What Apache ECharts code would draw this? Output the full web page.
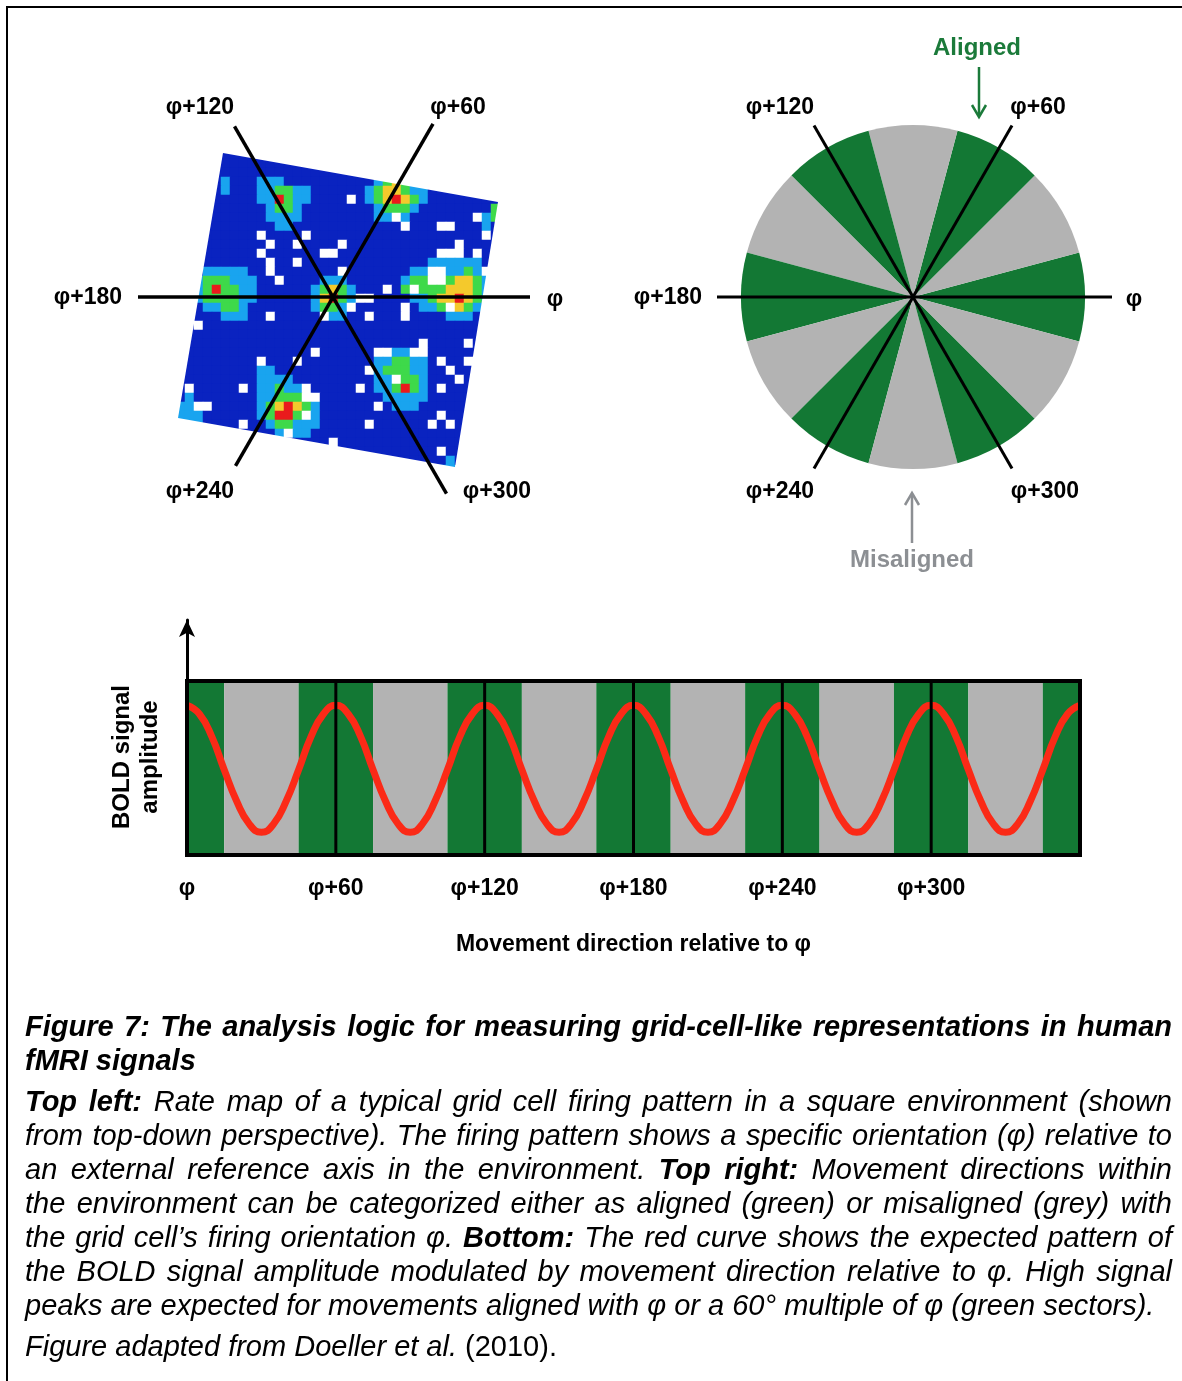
<!DOCTYPE html>
<html><head><meta charset="utf-8">
<script src="https://cdn.jsdelivr.net/npm/echarts@6/dist/echarts.min.js"></script>
<style>html,body{margin:0;padding:0;background:#fff}#c{width:1182px;height:1381px}</style>
</head><body><div id="c"></div>
<script>
// ===================== DATA =====================
// Rate map (grid cell firing), one string per row: [first column, cells]
// '.' = low (dark blue), 'b' = light blue, 'g' = green, 'y' = yellow, 'r' = red (peak), 'w' = unvisited (white)
const rateMapRows = [
  [5, "...."],
  [4, "..........."],
  [4, "................."],
  [4, ".b...bbb..........bgyg"],
  [4, ".b...bbggbb......bgyygbb...."],
  [4, ".....bbrgbb....w.bgyrygb........"],
  [4, "......bggb........bgggb........g"],
  [3, ".......bbbb........bbwb.......wbg"],
  [3, "........bb............w...ww...b."],
  [3, "......w....w...................w."],
  [3, ".......w..w....w............w...."],
  [3, "......w......ww...........www.w."],
  [3, ".......w..w..............bbbbbb."],
  [2, ".bbbbb..w.......w.......bbwwbbgbw"],
  [2, "bgggbbb..w....bbb......bggwwgyygb"],
  [2, "bgrggbb......bgygb...w.gwgggyyygb"],
  [2, "bggggbb......byrgbww....bbgyyrygb"],
  [2, ".bbggb.......bggbw.....w.bbgwygb"],
  [2, "...bbb..w.....wbb..w...w....bbb."],
  [1, ".w..............................."],
  [1, "................................."],
  [1, "..........................w....w."],
  [1, "..............w......wwbbww......"],
  [1, "........w...w........bbggbb.w..w"],
  [1, "........bb..........wbgggbb..w.."],
  [0, ".........bbbb.........bbwggb...w."],
  [0, ".w.....w.bbgbbw.....w.bbgrgb.w..."],
  [0, ".b.......bbgggww.......bbbbb....."],
  [0, "bbww.....bgyrygb......w.bbb......"],
  [0, "bbb......bgrrgwb.............w.."],
  [1, "bb....w..bggbbb.....w......w.w."],
  [7, "....bwbb................."],
  [12, ".....w.............."],
  [18, "...........w.."],
  [24, "......b."],
  [29, "bb"]
];
const rateLevelCodes = {'.': 0, 'b': 1, 'g': 2, 'y': 3, 'r': 4, 'w': 5};

// Grid axes (directions in degrees, counter-clockwise from φ)
const rayAngles = [0, 60, 120, 180, 240, 300];
const rayLabels = ['φ', 'φ+60', 'φ+120', 'φ+180', 'φ+240', 'φ+300'];
const leftRayLengths = [197, 200, 197, 195, 195, 227];
const rightRayLengths = [199, 198, 198, 196, 198, 198];

// Direction sectors of the top-right disc
const sectorCenters = [0, 30, 60, 90, 120, 150, 180, 210, 240, 270, 300, 330];
const sectorAligned = [1, 0, 1, 0, 1, 0, 1, 0, 1, 0, 1, 0];
const sectorWidth = 30;

// Bottom panel bands (degrees)
const bandStarts  = [0, 15, 45, 75, 105, 135, 165, 195, 225, 255, 285, 315, 345];
const bandEnds    = [15, 45, 75, 105, 135, 165, 195, 225, 255, 285, 315, 345, 360];
const bandAligned = [1, 0, 1, 0, 1, 0, 1, 0, 1, 0, 1, 0, 1];

// Tick labels of the bottom axis
const tickValues = [0, 60, 120, 180, 240, 300];
const tickLabels = ['φ', 'φ+60', 'φ+120', 'φ+180', 'φ+240', 'φ+300'];
const dividerValues = [60, 120, 180, 240, 300];

// Expected BOLD amplitude (0 = bottom of box, 1 = top of box)
const curveX = [0,5,10,15,20,25,30,35,40,45,50,55,60,65,70,75,80,85,90,95,100,105,110,115,120,125,130,135,140,145,150,155,160,165,170,175,180,185,190,195,200,205,210,215,220,225,230,235,240,245,250,255,260,265,270,275,280,285,290,295,300,305,310,315,320,325,330,335,340,345,350,355,360];
const curveY = [
  0.86,0.81,0.68,0.49,0.31,0.18,0.13,0.18,0.31,0.49,0.68,0.81,
  0.86,0.81,0.68,0.49,0.31,0.18,0.13,0.18,0.31,0.49,0.68,0.81,
  0.86,0.81,0.68,0.49,0.31,0.18,0.13,0.18,0.31,0.49,0.68,0.81,
  0.86,0.81,0.68,0.49,0.31,0.18,0.13,0.18,0.31,0.49,0.68,0.81,
  0.86,0.81,0.68,0.49,0.31,0.18,0.13,0.18,0.31,0.49,0.68,0.81,
  0.86,0.81,0.68,0.49,0.31,0.18,0.13,0.18,0.31,0.49,0.68,0.81,
  0.86
];

// Caption text
const captionLines = [
  {justify: true,  segs: [['bi', 'Figure 7: The analysis logic for measuring grid-cell-like representations in human']]},
  {justify: false, segs: [['bi', 'fMRI signals']]},
  {justify: true,  segs: [['bi', 'Top left:'], ['i', 'Rate map of a typical grid cell firing pattern in a square environment (shown']]},
  {justify: true,  segs: [['i', 'from top-down perspective). The firing pattern shows a specific orientation (φ) relative to']]},
  {justify: true,  segs: [['i', 'an external reference axis in the environment.'], ['bi', 'Top right:'], ['i', 'Movement directions within']]},
  {justify: true,  segs: [['i', 'the environment can be categorized either as aligned (green) or misaligned (grey) with']]},
  {justify: true,  segs: [['i', 'the grid cell’s firing orientation φ.'], ['bi', 'Bottom:'], ['i', 'The red curve shows the expected pattern of']]},
  {justify: true,  segs: [['i', 'the BOLD signal amplitude modulated by movement direction relative to φ. High signal']]},
  {justify: false, segs: [['i', 'peaks are expected for movements aligned with φ or a 60° multiple of φ (green sectors).']]},
  {justify: false, segs: [['i', 'Figure adapted from Doeller et al.'], ['n', '(2010).']]}
];

// ===================== LAYOUT / STYLE =====================
const FAMILY = '"Liberation Sans", Arial, Helvetica, sans-serif';
const GREEN = '#137834', GREY = '#b3b3b3', RED = '#fb2a17';
const ALIGNED_COLOR = '#1b7a3a', MISALIGNED_COLOR = '#8c8f93';
const LABEL_FONT = 'bold 23px ' + FAMILY;
const leftCenter = [333, 297], rightCenter = [913, 297];
const leftLabelPos  = [[555, 300], [458, 108], [200, 108], [88, 298], [200, 492], [497, 492]];
const rightLabelPos = [[1134, 300], [1038, 108], [780, 108], [668, 298], [780, 492], [1045, 492]];
const captionY = [1028, 1062, 1103, 1137, 1171, 1205, 1239, 1273, 1307, 1348];
const CAP_X0 = 25, CAP_X1 = 1172, CAP_SIZE = 29;
// outline of the (tilted) recording box: TL, TR, BR, BL
const boxCorners = [[223, 153], [498, 202], [455, 467], [178, 418]];

// ===================== BUILD =====================
const nCols = 36, nRows = rateMapRows.length;
const heatData = [];
rateMapRows.forEach(([start, cells], r) => {
  for (let i = 0; i < cells.length; i++) {
    const ch = cells[i];
    if (ch in rateLevelCodes) heatData.push([start + i, r, rateLevelCodes[ch]]);
  }
});

function capFont(f) {
  return (f === 'n' ? 'normal' : 'italic') + ' ' + (f === 'bi' ? 'bold' : 'normal') + ' ' + CAP_SIZE + 'px ' + FAMILY;
}
const mctx = document.createElement('canvas').getContext('2d');
function tw(t, f) { mctx.font = capFont(f); return mctx.measureText(t).width; }
const graphics = [];
captionLines.forEach((line, li) => {
  const words = [];
  line.segs.forEach(([f, t]) => t.split(' ').filter(Boolean).forEach(w => words.push({t: w, f: f, w: tw(w, f)})));
  const sumW = words.reduce((s, w) => s + w.w, 0);
  const gap = line.justify ? (CAP_X1 - CAP_X0 - sumW) / (words.length - 1) : tw(' ', 'i');
  let x = CAP_X0;
  words.forEach(w => {
    graphics.push({type: 'text', x: x, y: captionY[li], silent: true,
      style: {text: w.t, font: capFont(w.f), fill: '#000', verticalAlign: 'middle', textVerticalAlign: 'middle'}});
    x += w.w + gap;
  });
});

// white masks outside the tilted box edges (gives straight box outline)
for (let i = 0; i < 4; i++) {
  const a = boxCorners[i], b = boxCorners[(i + 1) % 4];
  const len = Math.hypot(b[0] - a[0], b[1] - a[1]);
  const d = [(b[0] - a[0]) / len, (b[1] - a[1]) / len];
  const n = [d[1], -d[0]];
  const A = [a[0] - 20 * d[0], a[1] - 20 * d[1]];
  const B = [b[0] + 20 * d[0], b[1] + 20 * d[1]];
  graphics.push({type: 'polygon', silent: true, z: 4,
    shape: {points: [A, B, [B[0] + 40 * n[0], B[1] + 40 * n[1]], [A[0] + 40 * n[0], A[1] + 40 * n[1]]]},
    style: {fill: '#ffffff'}});
}

// outer frame (left and top rules)
graphics.push({type: 'line', silent: true, shape: {x1: 7, y1: 6, x2: 7, y2: 1381}, style: {stroke: '#000', lineWidth: 2}});
graphics.push({type: 'line', silent: true, shape: {x1: 6, y1: 7, x2: 1182, y2: 7}, style: {stroke: '#000', lineWidth: 2}});

// direction labels for both top panels
function pushLabels(pos) {
  rayLabels.forEach((t, i) => graphics.push({type: 'text', x: pos[i][0], y: pos[i][1], silent: true, z: 10,
    style: {text: t, font: LABEL_FONT, fill: '#000', align: 'center', textAlign: 'center', verticalAlign: 'middle', textVerticalAlign: 'middle'}}));
}
pushLabels(leftLabelPos);
pushLabels(rightLabelPos);

// Aligned / Misaligned annotations
graphics.push({type: 'text', x: 977, y: 48, silent: true, style: {text: 'Aligned', font: 'bold 24px ' + FAMILY, fill: ALIGNED_COLOR, align: 'center', textAlign: 'center', verticalAlign: 'middle', textVerticalAlign: 'middle'}});
graphics.push({type: 'line', silent: true, shape: {x1: 979, y1: 67, x2: 979, y2: 116}, style: {stroke: ALIGNED_COLOR, lineWidth: 2.5}});
graphics.push({type: 'polyline', silent: true, shape: {points: [[972, 105], [979, 117], [986, 105]]}, style: {stroke: ALIGNED_COLOR, lineWidth: 2.5, fill: null}});
graphics.push({type: 'text', x: 912, y: 560, silent: true, style: {text: 'Misaligned', font: 'bold 24px ' + FAMILY, fill: MISALIGNED_COLOR, align: 'center', textAlign: 'center', verticalAlign: 'middle', textVerticalAlign: 'middle'}});
graphics.push({type: 'line', silent: true, shape: {x1: 912, y1: 543, x2: 912, y2: 494}, style: {stroke: MISALIGNED_COLOR, lineWidth: 2.5}});
graphics.push({type: 'polyline', silent: true, shape: {points: [[905, 505], [912, 493], [919, 505]]}, style: {stroke: MISALIGNED_COLOR, lineWidth: 2.5, fill: null}});

// y axis title (rotated)
graphics.push({type: 'text', x: 122, y: 757, rotation: Math.PI / 2, silent: true, style: {text: 'BOLD signal', font: 'bold 24px ' + FAMILY, fill: '#000', align: 'center', textAlign: 'center', verticalAlign: 'middle', textVerticalAlign: 'middle'}});
graphics.push({type: 'text', x: 150, y: 757, rotation: Math.PI / 2, silent: true, style: {text: 'amplitude', font: 'bold 24px ' + FAMILY, fill: '#000', align: 'center', textAlign: 'center', verticalAlign: 'middle', textVerticalAlign: 'middle'}});

const raySeries = [];
function pushRays(polarIndex, lengths, width) {
  rayAngles.forEach((a, i) => raySeries.push({
    type: 'line', coordinateSystem: 'polar', polarIndex: polarIndex, silent: true, z: 6,
    symbol: 'none', animation: false, clip: false,
    lineStyle: {color: '#000', width: width},
    data: [[0, a], [lengths[i], a]]
  }));
}
pushRays(0, leftRayLengths, 3.5);
pushRays(1, rightRayLengths, 3);

const option = {
  backgroundColor: '#ffffff',
  animation: false,
  textStyle: {fontFamily: FAMILY},
  grid: [
    {left: 176, top: 150, width: nCols * 9, height: nRows * 9},
    {left: 187, top: 620, width: 893, height: 235}
  ],
  xAxis: [
    {gridIndex: 0, type: 'category', data: Array.from({length: nCols}, (_, i) => i), show: false},
    {gridIndex: 1, type: 'value', min: 0, max: 360, interval: 60,
      axisLine: {show: false}, axisTick: {show: false}, splitLine: {show: false},
      axisLabel: {margin: 22, fontSize: 23, fontWeight: 'bold', color: '#000', fontFamily: FAMILY,
        formatter: v => { const i = tickValues.indexOf(v); return i >= 0 ? tickLabels[i] : ''; }},
      name: 'Movement direction relative to φ', nameLocation: 'middle', nameGap: 78,
      nameTextStyle: {fontSize: 23, fontWeight: 'bold', color: '#000', fontFamily: FAMILY}}
  ],
  yAxis: [
    {gridIndex: 0, type: 'category', data: Array.from({length: nRows}, (_, i) => i), inverse: true, show: false},
    {gridIndex: 1, type: 'value', min: 0, max: 1.35,
      axisLine: {show: true, symbol: ['none', 'arrow'], symbolSize: [12, 17], lineStyle: {color: '#000', width: 3}},
      axisTick: {show: false}, axisLabel: {show: false}, splitLine: {show: false}}
  ],
  polar: [
    {center: leftCenter, radius: 240},
    {center: rightCenter, radius: 240}
  ],
  angleAxis: [
    {polarIndex: 0, type: 'value', min: 0, max: 360, startAngle: 0, clockwise: false, show: false, splitLine: {show: false}},
    {polarIndex: 1, type: 'value', min: 0, max: 360, startAngle: 0, clockwise: false, show: false, splitLine: {show: false}}
  ],
  radiusAxis: [
    {polarIndex: 0, type: 'value', min: 0, max: 240, show: false, splitLine: {show: false}},
    {polarIndex: 1, type: 'value', min: 0, max: 240, show: false, splitLine: {show: false}}
  ],
  visualMap: {
    type: 'piecewise', show: false, seriesIndex: 0, dimension: 2,
    pieces: [
      {value: 0, color: '#0a23c0'},
      {value: 1, color: '#19a4ef'},
      {value: 2, color: '#3ed94a'},
      {value: 3, color: '#f4c92c'},
      {value: 4, color: '#ea1a1c'},
      {value: 5, color: '#ffffff'}
    ]
  },
  graphic: {elements: graphics},
  series: [
    {type: 'heatmap', xAxisIndex: 0, yAxisIndex: 0, data: heatData, silent: true, z: 2,
      itemStyle: {borderWidth: 0}, emphasis: {disabled: true}},
    {type: 'pie', center: rightCenter, radius: [0, 172], startAngle: 345, clockwise: false, silent: true, z: 2,
      label: {show: false}, labelLine: {show: false}, emphasis: {disabled: true},
      itemStyle: {borderWidth: 0},
      data: sectorCenters.map((a, i) => ({name: String(a), value: sectorWidth, itemStyle: {color: sectorAligned[i] ? GREEN : GREY}}))},
    {type: 'custom', xAxisIndex: 1, yAxisIndex: 1, silent: true, z: 1,
      data: bandStarts.map((s, i) => [s, bandEnds[i], bandAligned[i]]),
      encode: {x: [0, 1]},
      renderItem: (params, api) => {
        const p0 = api.coord([api.value(0), 1]);
        const p1 = api.coord([api.value(1), 0]);
        return {type: 'rect', shape: {x: p0[0], y: p0[1], width: p1[0] - p0[0], height: p1[1] - p0[1]},
          style: {fill: api.value(2) ? GREEN : GREY}};
      }},
    {type: 'line', xAxisIndex: 1, yAxisIndex: 1, silent: true, z: 3, smooth: true, symbol: 'none',
      lineStyle: {color: RED, width: 7},
      data: curveX.map((x, i) => [x, curveY[i]])},
    {type: 'custom', xAxisIndex: 1, yAxisIndex: 1, silent: true, z: 4,
      data: dividerValues.map(v => [v]),
      encode: {x: 0},
      renderItem: (params, api) => {
        const p0 = api.coord([api.value(0), 0]);
        const p1 = api.coord([api.value(0), 1]);
        return {type: 'line', shape: {x1: p0[0], y1: p0[1], x2: p1[0], y2: p1[1]}, style: {stroke: '#000', lineWidth: 3}};
      }},
    {type: 'custom', xAxisIndex: 1, yAxisIndex: 1, silent: true, z: 5,
      data: [[0, 360]],
      encode: {x: [0, 1]},
      renderItem: (params, api) => {
        const p0 = api.coord([api.value(0), 1]);
        const p1 = api.coord([api.value(1), 0]);
        return {type: 'rect', shape: {x: p0[0], y: p0[1], width: p1[0] - p0[0], height: p1[1] - p0[1]},
          style: {fill: null, stroke: '#000', lineWidth: 4}};
      }}
  ].concat(raySeries)
};

const chart = echarts.init(document.getElementById('c'), null, {renderer: 'canvas'});
chart.setOption(option);
</script>
</body></html>
